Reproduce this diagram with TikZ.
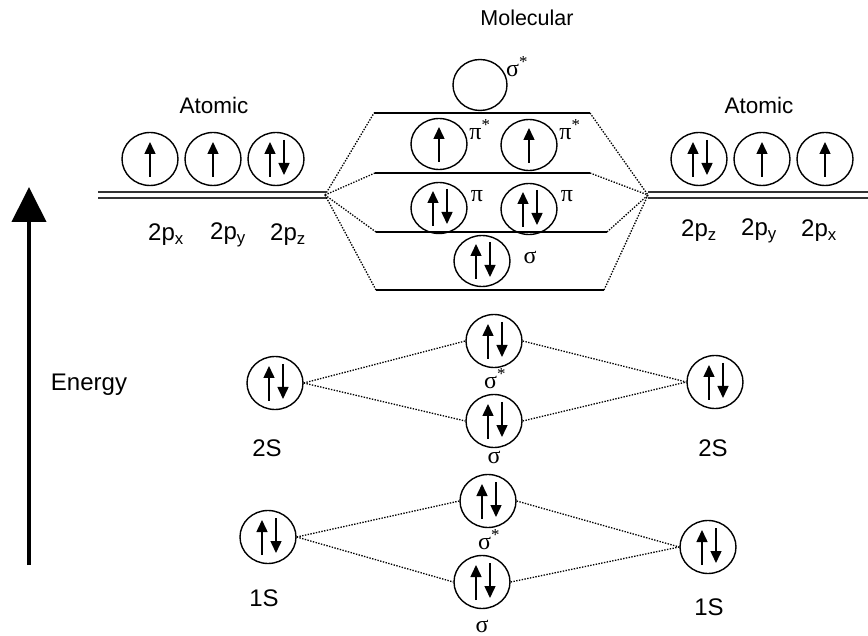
\documentclass[tikz,border=0pt]{standalone}
\usepackage{fontspec}
\setmainfont{Liberation Sans}
\newfontfamily\grfont{Liberation Serif}
\usetikzlibrary{shapes.geometric,arrows.meta,calc}
\newcommand\spinup[1]{\draw[spin] ($(#1)+(0,18)$) -- ($(#1)+(0,-17)$);}
\newcommand\spinpair[1]{\draw[spin] ($(#1)+(-6,18)$) -- ($(#1)+(-6,-17)$);
  \draw[spin] ($(#1)+(8,-19)$) -- ($(#1)+(8,16)$);}
\begin{document}
\begin{tikzpicture}[x=1pt,y=-1pt,
  orb/.style={ellipse,draw,line width=1.4pt,minimum width=56pt,minimum height=53pt,inner sep=0pt},
  spin/.style={line width=1.5pt,-{Triangle[length=12pt,width=11pt]}},
  lvl/.style={line width=1.4pt},
  dl/.style={line width=1.3pt,black!80},
  dots/.style={dash pattern=on 1.4pt off 1.4pt,line width=1.3pt,black},
  lab/.style={font=\fontsize{24}{28}\selectfont},
  glab/.style={font=\grfont\fontsize{24}{28}\selectfont},
]
\useasboundingbox (0,0) rectangle (868,636);

% ---------- titles ----------
\node[lab,font=\fontsize{21.5}{25}\selectfont] (tmol) at (527,18) {Molecular};
\node[lab,font=\fontsize{22.5}{26}\selectfont] (tatL) at (214,105) {Atomic};
\node[lab,font=\fontsize{22.5}{26}\selectfont] (tatR) at (759,105) {Atomic};

% ---------- left atomic 2p ----------
\node[orb] (a1) at (150,159) {};
\node[orb] (a2) at (213,159) {};
\node[orb] (a3) at (276,159) {};
\spinup{a1}\spinup{a2}\spinpair{a3}
\node[lab] (la1) at (166,235) {2p\textsubscript{x}};
\node[lab] (la2) at (228,235) {2p\textsubscript{y}};
\node[lab] (la3) at (288,235) {2p\textsubscript{z}};

% ---------- right atomic 2p ----------
\node[orb] (b1) at (699,159) {};
\node[orb] (b2) at (762,159) {};
\node[orb] (b3) at (825,159) {};
\spinpair{b1}\spinup{b2}\spinup{b3}
\node[lab] (lb1) at (699,231) {2p\textsubscript{z}};
\node[lab] (lb2) at (759,231) {2p\textsubscript{y}};
\node[lab] (lb3) at (819,231) {2p\textsubscript{x}};

% ---------- double lines ----------
\coordinate (dLa1) at (98,192); \coordinate (dLb1) at (326,192);
\coordinate (dLa2) at (98,198); \coordinate (dLb2) at (327,198);
\coordinate (dRa1) at (648,192); \coordinate (dRb1) at (868,192);
\coordinate (dRa2) at (648,198); \coordinate (dRb2) at (868,198);
\draw[dl] (dLa1) -- (dLb1);
\draw[dl] (dLa2) -- (dLb2);
\draw[dl] (dRa1) -- (dRb1);
\draw[dl] (dRa2) -- (dRb2);
\coordinate (jl) at (325,195);
\coordinate (jr) at (648,195);

% ---------- molecular levels ----------
\coordinate (l1a) at (374,113); \coordinate (l1b) at (590,113);
\coordinate (l2a) at (375,173); \coordinate (l2b) at (590,173);
\coordinate (l3a) at (376,232); \coordinate (l3b) at (607,232);
\coordinate (l4a) at (376,290); \coordinate (l4b) at (604,290);
\draw[lvl] (l1a) -- (l1b);
\draw[lvl] (l2a) -- (l2b);
\draw[lvl] (l3a) -- (l3b);
\draw[lvl] (l4a) -- (l4b);
\foreach \p in {l1a,l2a,l3a,l4a} \draw[dots] (jl) -- (\p);
\foreach \p in {l1b,l2b,l3b,l4b} \draw[dots] (\p) -- (jr);

% ---------- molecular orbitals ----------
\node[orb,minimum height=51pt,minimum width=54pt] (ss) at (480,85) {};
\node[glab] (lss) at (517,67) {σ\textsuperscript{*}};
\node[orb,minimum height=51pt] (ps1) at (439,144) {};
\node[orb,minimum height=51pt] (ps2) at (529,145) {};
\spinup{ps1}\spinup{ps2}
\node[glab] (lps1) at (480,130) {π\textsuperscript{*}};
\node[glab] (lps2) at (570,130) {π\textsuperscript{*}};
\node[orb,minimum height=51pt] (p1) at (439,208) {};
\node[orb,minimum height=51pt] (p2) at (529,209) {};
\spinpair{p1}\spinpair{p2}
\node[glab] (lp1) at (477,196) {π};
\node[glab] (lp2) at (567,196) {π};
\node[orb,minimum height=51pt] (sg) at (482,261) {};
\spinpair{sg}
\node[glab] (lsg) at (530,257) {σ};

% ---------- 2s ----------
\node[orb] (s2L) at (275,383) {};
\node[orb] (s2s) at (494,341) {};
\node[orb] (s2) at (494,421) {};
\node[orb] (s2R) at (715,382) {};
\spinpair{s2L}\spinpair{s2s}\spinpair{s2}\spinpair{s2R}
\draw[dots] (s2L.east) -- (s2s.west);
\draw[dots] (s2L.east) -- (s2.west);
\draw[dots] (s2s.east) -- (s2R.west);
\draw[dots] (s2.east) -- (s2R.west);
\node[lab] (t2L) at (267,448) {2S};
\node[lab] (t2R) at (713,448) {2S};
\node[glab] (ls2s) at (495,379) {σ\textsuperscript{*}};
\node[glab] (ls2) at (494,457) {σ};

% ---------- 1s ----------
\node[orb] (s1L) at (268,537) {};
\node[orb] (s1s) at (488,501) {};
\node[orb] (s1) at (482,582) {};
\node[orb] (s1R) at (708,547) {};
\spinpair{s1L}\spinpair{s1s}\spinpair{s1}\spinpair{s1R}
\draw[dots] (s1L.east) -- (s1s.west);
\draw[dots] (s1L.east) -- (s1.west);
\draw[dots] (s1s.east) -- (s1R.west);
\draw[dots] (s1.east) -- (s1R.west);
\node[lab] (t1L) at (264,598) {1S};
\node[lab] (t1R) at (709,607) {1S};
\node[glab] (ls1s) at (489,540) {σ\textsuperscript{*}};
\node[glab] (ls1) at (482,626) {σ};

% ---------- energy axis ----------
\coordinate (eB) at (29,565);
\coordinate (eT) at (29,187);
\draw[line width=4pt,-{Triangle[length=35pt,width=34pt]}] (eB) -- (eT);
\node[lab] (ten) at (89,385) {Energy};
\end{tikzpicture}
\end{document}
